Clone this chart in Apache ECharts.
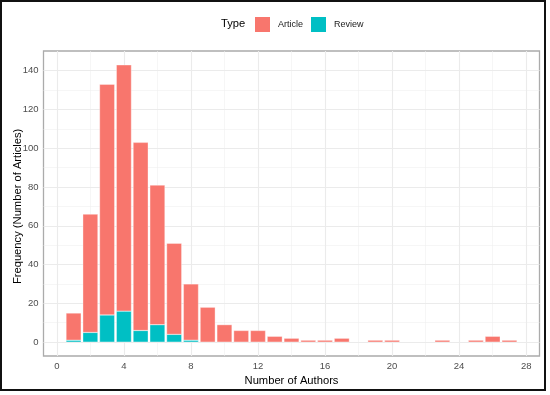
<!DOCTYPE html>
<html><head><meta charset="utf-8">
<script src="https://cdn.jsdelivr.net/npm/echarts@6/dist/echarts.min.js"></script>
<style>html,body{margin:0;padding:0;background:#fff}#c{width:550px;height:395px}</style>
</head><body><div id="c"></div>
<script>
// ---- data ----
const authorCounts = [1,2,3,4,5,6,7,8,9,10,11,12,13,14,15,16,17,18,19,20,21,22,23,24,25,26,27];
const articleCounts = [14,61,119,127,97,72,47,29,18,9,6,6,3,2,1,1,2,null,1,1,null,null,1,null,1,3,1];
const reviewCounts  = [1,5,14,16,6,9,4,1,null,null,null,null,null,null,null,null,null,null,null,null,null,null,null,null,null,null,null];
const typeNames = ['Article','Review'];
const xTicks = [0,4,8,12,16,20,24,28];
const xMinorTicks = [2,6,10,14,18,22,26];
const yTicks = [0,20,40,60,80,100,120,140];
const yMinorTicks = [10,30,50,70,90,110,130];

// ---- layout / style ----
const FONT = '"Liberation Sans", Arial, sans-serif';
const P = {left:43.5, top:51, width:496, height:305};
const barFrac = 0.9;
const xMinData = authorCounts[0] - barFrac/2, xMaxData = authorCounts[authorCounts.length-1] + barFrac/2;
const xPad = (xMaxData - xMinData) * 0.05;
const xRange = [xMinData - xPad, xMaxData + xPad];
const totals = authorCounts.map((_, i) => (articleCounts[i] || 0) + (reviewCounts[i] || 0));
const yMaxData = Math.max(...totals);
const yPad = yMaxData * 0.05;
const yRange = [0 - yPad, yMaxData + yPad];
const pxX = P.width / (xRange[1] - xRange[0]);
const pxY = P.height / (yRange[1] - yRange[0]);
// grid for tick labels (exact tick range)
const g1 = {
  left: P.left + (xTicks[0] - xRange[0]) * pxX,
  width: (xTicks[xTicks.length-1] - xTicks[0]) * pxX,
  top: P.top + (yRange[1] - yTicks[yTicks.length-1]) * pxY,
  height: (yTicks[yTicks.length-1] - yTicks[0]) * pxY
};
const xOffset = (P.top + P.height) - (g1.top + g1.height);
const yOffset = g1.left - P.left;
// grid for category bars: each band one unit wide
const g2 = {
  left: P.left + (authorCounts[0] - 0.5 - xRange[0]) * pxX,
  width: authorCounts.length * pxX,
  top: P.top, height: P.height
};

const chart = echarts.init(document.getElementById('c'), null, {renderer:'canvas'});
const option = {
  animation: false,
  backgroundColor: '#fff',
  textStyle: {fontFamily: FONT},
  graphic: [
    {type:'rect', shape:{x:1, y:1, width:544, height:389}, style:{fill:'none', stroke:'#111', lineWidth:2}, z:100},
    {type:'text', left:221, top:18, style:{text:'Type', font:'11.2px ' + FONT, fill:'#000'}}
  ],
  legend: {
    data: typeNames, left: 253, top: 15, padding:0, icon:'rect', itemWidth:17, itemHeight:17, itemGap:6,
    textStyle:{fontSize:9, color:'#1a1a1a', fontFamily: FONT, padding:[0,0,0,2]}
  },
  grid: [
    {left:P.left, top:P.top, width:P.width, height:P.height, show:true, backgroundColor:'#fff', borderColor:'#ababab', borderWidth:1.3, outerBoundsMode:'none', containLabel:false},
    {left:g1.left, top:g1.top, width:g1.width, height:g1.height, show:false, outerBoundsMode:'none', containLabel:false},
    {left:g2.left, top:g2.top, width:g2.width, height:g2.height, show:false, outerBoundsMode:'none', containLabel:false}
  ],
  xAxis: [
    {gridIndex:0, type:'value', min:xRange[0], max:xRange[1], show:false},
    {gridIndex:1, type:'value', min:xTicks[0], max:xTicks[xTicks.length-1], interval:4, position:'bottom', offset:xOffset,
     axisLine:{show:false}, axisTick:{show:true, length:3, lineStyle:{color:'#555', width:1}},
     axisLabel:{margin:5, fontSize:9.5, color:'#4d4d4d', fontFamily:FONT}, splitLine:{show:false},
     name:'Number of Authors', nameLocation:'middle', nameGap:17, nameTextStyle:{fontSize:11.2, color:'#000', fontFamily:FONT}},
    {gridIndex:2, type:'category', data:authorCounts, boundaryGap:true, show:false}
  ],
  yAxis: [
    {gridIndex:0, type:'value', min:yRange[0], max:yRange[1], show:false},
    {gridIndex:1, type:'value', min:yTicks[0], max:yTicks[yTicks.length-1], interval:20, position:'left', offset:yOffset,
     axisLine:{show:false}, axisTick:{show:true, length:3, lineStyle:{color:'#555', width:1}},
     axisLabel:{margin:5, fontSize:9.5, color:'#4d4d4d', fontFamily:FONT}, splitLine:{show:false},
     name:'Frequency (Number of Articles)', nameLocation:'middle', nameGap:20, nameMoveOverlap:false,
     nameTextStyle:{fontSize:11.2, color:'#000', fontFamily:FONT}},
    {gridIndex:2, type:'value', min:yRange[0], max:yRange[1], show:false}
  ],
  series: [
    {type:'line', xAxisIndex:0, yAxisIndex:0, data:[], silent:true, z:1,
     markLine:{silent:true, z:1, symbol:['none','none'], animation:false, label:{show:false},
       lineStyle:{color:'#f0f0f0', width:0.6, type:'solid'},
       emphasis:{disabled:true},
       data:[...xMinorTicks.map(v=>({xAxis:v})), ...yMinorTicks.map(v=>({yAxis:v}))]}},
    {type:'line', xAxisIndex:0, yAxisIndex:0, data:[], silent:true, z:1,
     markLine:{silent:true, z:1, symbol:['none','none'], animation:false, label:{show:false},
       lineStyle:{color:'#ebebeb', width:1.1, type:'solid'},
       emphasis:{disabled:true},
       data:[...xTicks.map(v=>({xAxis:v})), ...yTicks.map(v=>({yAxis:v}))]}},
    {type:'bar', name:'Review', xAxisIndex:2, yAxisIndex:2, stack:'type', z:2,
     barWidth: (barFrac * 100) + '%',
     itemStyle:{color:'#00BFC4', borderColor:'#fff', borderWidth:0.35},
     data: reviewCounts},
    {type:'bar', name:'Article', xAxisIndex:2, yAxisIndex:2, stack:'type', z:2,
     barWidth: (barFrac * 100) + '%',
     itemStyle:{color:'#F8766D', borderColor:'#fff', borderWidth:0.35},
     data: articleCounts}
  ]
};
chart.setOption(option);
</script></body></html>
